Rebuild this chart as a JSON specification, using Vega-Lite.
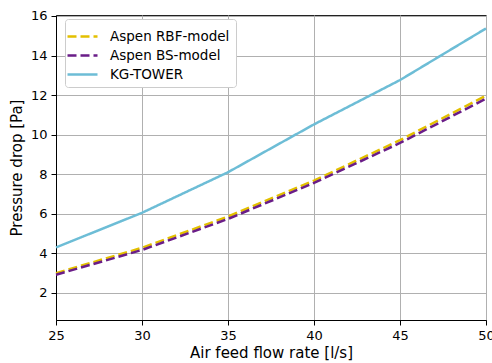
{
  "$schema": "https://vega.github.io/schema/vega-lite/v6.json",
  "autosize": "none",
  "width": 430,
  "height": 305,
  "padding": {"left": 56, "top": 15, "right": 6, "bottom": 43},
  "background": "white",
  "config": {
    "font": "DejaVu Sans",
    "view": {"stroke": "#222", "strokeWidth": 1}
  },
  "data": {
    "values": [
      {"x": 25, "y": 3.0, "series": "Aspen RBF-model"},
      {"x": 30, "y": 4.28, "series": "Aspen RBF-model"},
      {"x": 35, "y": 5.86, "series": "Aspen RBF-model"},
      {"x": 40, "y": 7.68, "series": "Aspen RBF-model"},
      {"x": 45, "y": 9.72, "series": "Aspen RBF-model"},
      {"x": 50, "y": 11.97, "series": "Aspen RBF-model"},
      {"x": 25, "y": 2.92, "series": "Aspen BS-model"},
      {"x": 30, "y": 4.17, "series": "Aspen BS-model"},
      {"x": 35, "y": 5.74, "series": "Aspen BS-model"},
      {"x": 40, "y": 7.56, "series": "Aspen BS-model"},
      {"x": 45, "y": 9.58, "series": "Aspen BS-model"},
      {"x": 50, "y": 11.82, "series": "Aspen BS-model"},
      {"x": 25, "y": 4.3, "series": "KG-TOWER"},
      {"x": 30, "y": 6.05, "series": "KG-TOWER"},
      {"x": 35, "y": 8.1, "series": "KG-TOWER"},
      {"x": 40, "y": 10.52, "series": "KG-TOWER"},
      {"x": 45, "y": 12.76, "series": "KG-TOWER"},
      {"x": 50, "y": 15.37, "series": "KG-TOWER"}
    ]
  },
  "mark": {"type": "line", "strokeWidth": 2.5},
  "encoding": {
    "x": {
      "field": "x", "type": "quantitative",
      "scale": {"domain": [25, 50], "nice": false, "zero": false},
      "axis": {
        "title": "Air feed flow rate [l/s]", "values": [25, 30, 35, 40, 45, 50],
        "titleFontSize": 15, "titleFontWeight": "normal", "titleColor": "#000", "titlePadding": 3,
        "labelFontSize": 13, "labelColor": "#000", "labelPadding": 4, "labelFlush": false,
        "tickSize": 5, "tickColor": "#000", "domainColor": "#000",
        "grid": true, "gridColor": "#b0b0b0", "gridWidth": 1
      }
    },
    "y": {
      "field": "y", "type": "quantitative",
      "scale": {"domain": [0.63, 16.05], "nice": false, "zero": false},
      "axis": {
        "title": "Pressure drop [Pa]", "values": [2, 4, 6, 8, 10, 12, 14, 16],
        "titleFontSize": 15, "titleFontWeight": "normal", "titleColor": "#000", "titlePadding": 6,
        "labelFontSize": 13, "labelColor": "#000", "labelPadding": 4, "labelFlush": false,
        "tickSize": 5, "tickColor": "#000", "domainColor": "#000",
        "grid": true, "gridColor": "#b0b0b0", "gridWidth": 1
      }
    },
    "color": {
      "field": "series", "type": "nominal",
      "scale": {
        "domain": ["Aspen RBF-model", "Aspen BS-model", "KG-TOWER"],
        "range": ["#e3c000", "#6a1d88", "#6dbdd6"]
      },
      "legend": {
        "title": null, "orient": "none", "legendX": 9, "legendY": 4,
        "symbolType": "M-1.5,0H1.5", "symbolSize": 400, "symbolStrokeWidth": 2.5,
        "labelFontSize": 13.5, "labelColor": "#000", "labelOffset": 16,
        "rowPadding": 1, "padding": 6,
        "fillColor": "white", "strokeColor": "#cccccc", "cornerRadius": 3
      }
    },
    "strokeDash": {
      "field": "series", "type": "nominal",
      "scale": {
        "domain": ["Aspen RBF-model", "Aspen BS-model", "KG-TOWER"],
        "range": [[9, 4], [9, 4], [1, 0]]
      },
      "legend": null
    }
  }
}
